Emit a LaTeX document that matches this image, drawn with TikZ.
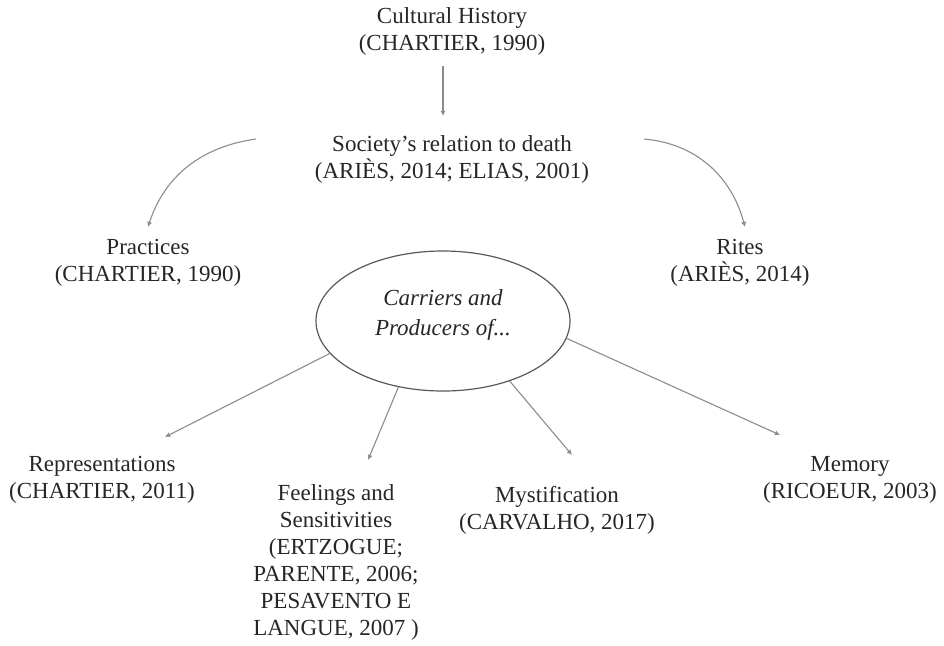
\documentclass[tikz,border=0pt]{standalone}
\usepackage{fontspec}
\setmainfont{Liberation Serif}
\usetikzlibrary{shapes.geometric,arrows.meta}
\begin{document}
\begin{tikzpicture}[x=0.5pt,y=-0.5pt,
  lbl/.style={align=center,inner sep=0pt,text=black!85,font=\fontsize{11.5}{13.5}\selectfont},
  conn/.style={draw=black!45,line width=0.55pt,-{Latex[length=2.6pt,width=2.6pt]}},
  ell/.style={ellipse,draw=black!65,line width=0.6pt,minimum width=127pt,minimum height=70pt,inner sep=0pt}]
\useasboundingbox (0,0) rectangle (944,645);
\node[lbl] (cult) at (452,31) {Cultural History\\(CHARTIER, 1990)};
\node[lbl] (soc) at (452,159) {Society's relation to death\\(ARIÈS, 2014; ELIAS, 2001)};
\node[lbl] (prac) at (148,263) {Practices\\(CHARTIER, 1990)};
\node[lbl] (rite) at (740,263) {Rites\\(ARIÈS, 2014)};
\node[ell] (car) at (443,321) {};
\node[lbl,font=\fontsize{11.5}{15}\selectfont\itshape] (cartxt) at (443,315) {Carriers and\\Producers of...};
\node[lbl] (rep) at (102,480) {Representations\\(CHARTIER, 2011)};
\node[lbl] (feel) at (336,562) {Feelings and\\Sensitivities\\(ERTZOGUE;\\PARENTE, 2006;\\PESAVENTO E\\LANGUE, 2007 )};
\node[lbl] (myst) at (557,510) {Mystification\\(CARVALHO, 2017)};
\node[lbl] (mem) at (850,480) {Memory\\(RICOEUR, 2003)};
\coordinate (cultS) at (443,66);
\coordinate (socT) at (443,116);
\coordinate (pracS) at (256,139);
\coordinate (pracT) at (148,227);
\coordinate (riteS) at (644,139);
\coordinate (riteT) at (745,227);
\coordinate (repT) at (165,437);
\coordinate (feelT) at (368,460);
\coordinate (mystT) at (572,455);
\coordinate (memT) at (780,435);
\draw[conn] (cultS) -- (socT);
\draw[conn] (pracS) to[out=188,in=72] (pracT);
\draw[conn] (riteS) to[out=-5,in=105] (riteT);
\draw[conn] (car.196) -- (repT);
\draw[conn] (car.236) -- (feelT);
\draw[conn] (car.318) -- (mystT);
\draw[conn] (car.352) -- (memT);
\end{tikzpicture}
\end{document}
